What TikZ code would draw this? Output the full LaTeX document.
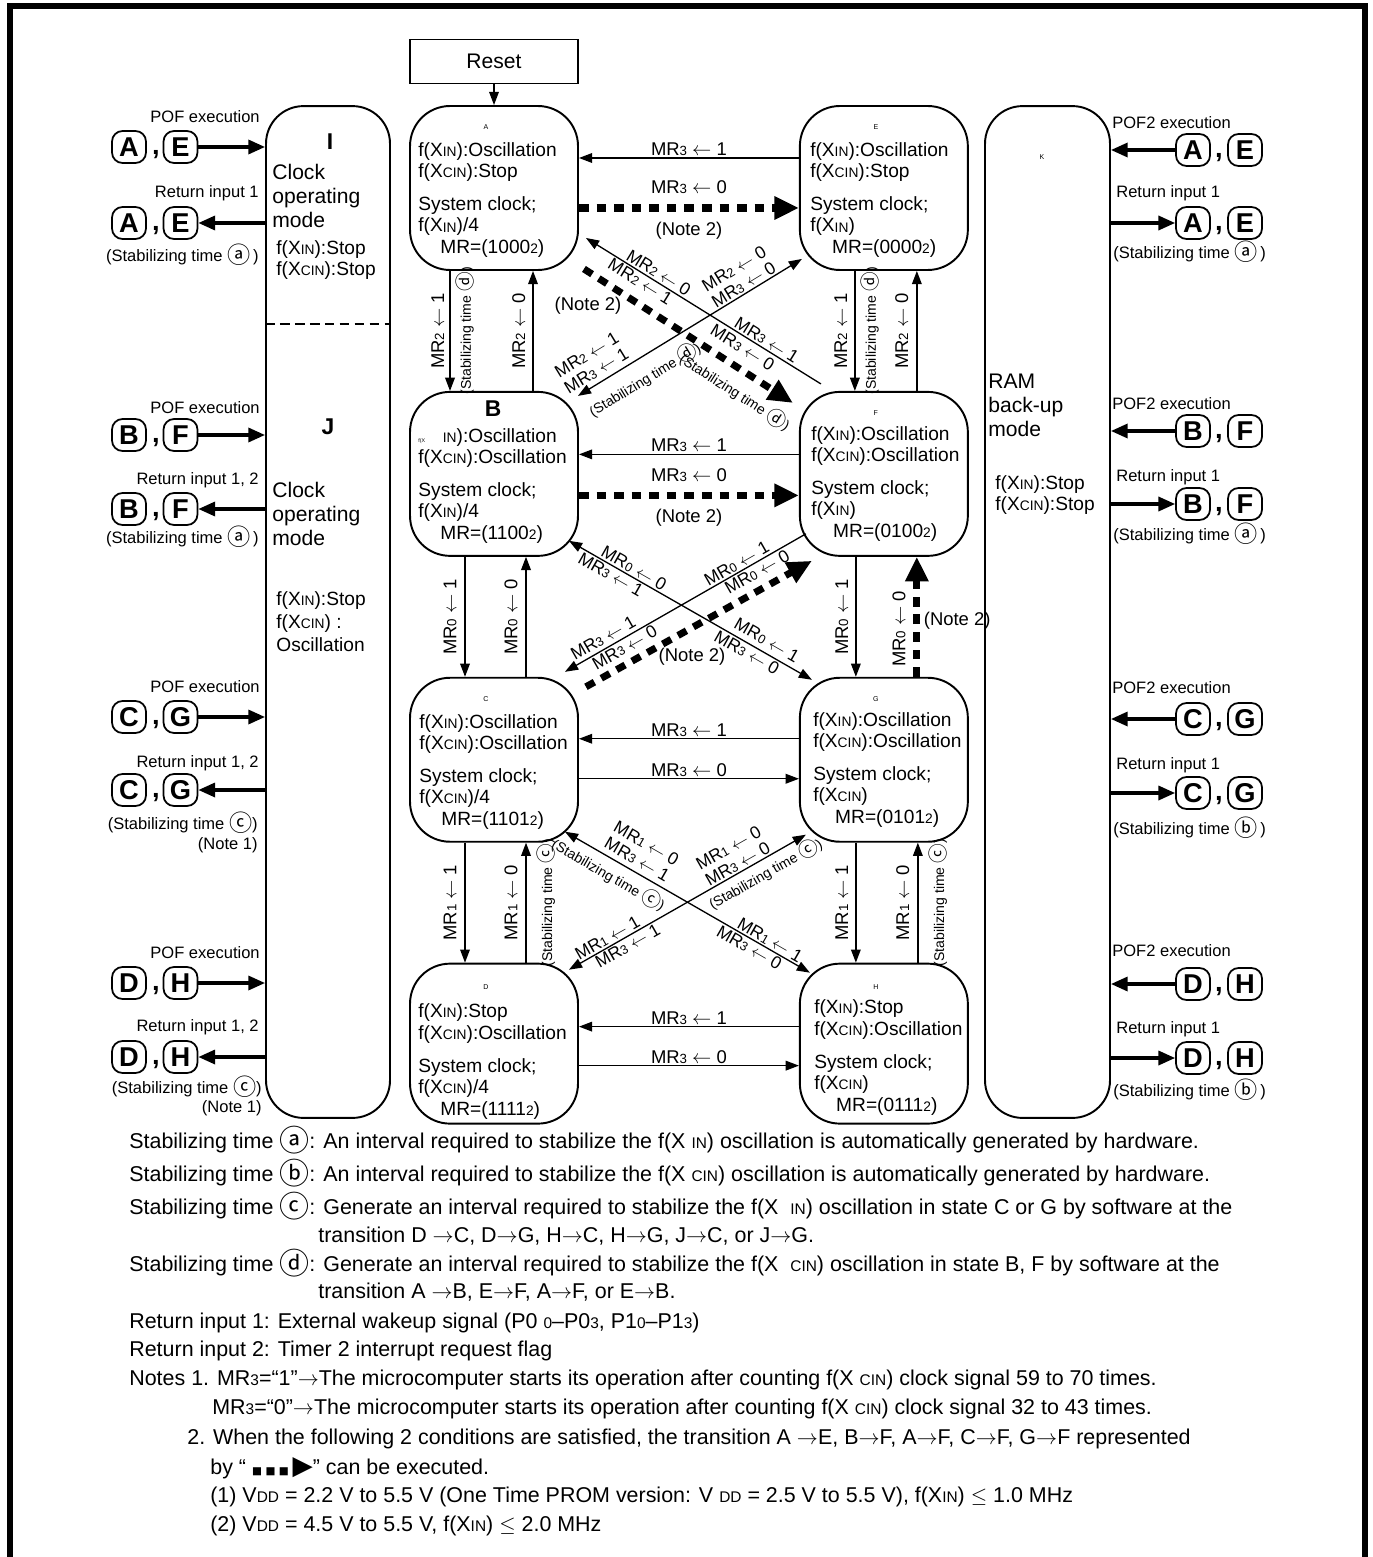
\documentclass[tikz,border=0pt]{standalone}
\usepackage{fontspec}
\setmainfont{Liberation Sans}
\newfontfamily\symfont{DejaVu Sans}
\newfontfamily\cjkfont{Noto Sans CJK JP}
\usepackage{graphicx}
\usetikzlibrary{arrows.meta, positioning}

\newcommand{\sm}[1]{\scalebox{0.72}{#1}}
\newcommand{\circl}[1]{\raisebox{-0.12em}{\cjkfont\scalebox{1.4}{#1}}}
\newcommand{\mrset}[2]{MR\sm{#1} $\leftarrow$ #2}

\begin{document}
\begin{tikzpicture}[
  x=0.02cm, y=-0.02cm,
  node distance=2.4cm and 4.4cm,
  state/.style={draw, line width=1.1pt, rounded corners=0.8cm, minimum width=3.36cm, minimum height=3.28cm, inner sep=0pt},
  modebox/.style={draw, line width=1.1pt, rounded corners=0.75cm, minimum height=20.24cm, inner sep=0pt},
  stxt/.style={font=\fontsize{10.9}{12.2}\selectfont, align=left, inner sep=0pt, anchor=north west},
  mtxt/.style={font=\fontsize{12}{13.6}\selectfont, align=left, inner sep=0pt, anchor=north west},
  tag/.style={font=\fontsize{4}{4}\selectfont, inner sep=0pt},
  bigtag/.style={font=\fontsize{13}{13}\selectfont\bfseries, inner sep=0pt},
  lbox/.style={draw, line width=1pt, rounded corners=6pt, minimum width=0.68cm, minimum height=0.64cm, inner sep=0pt, font=\fontsize{15.5}{15.5}\selectfont\bfseries},
  comma/.style={font=\fontsize{15.5}{15.5}\selectfont\bfseries, inner sep=0pt},
  side/.style={font=\fontsize{9.4}{11}\selectfont, inner sep=0pt},
  mrl/.style={font=\fontsize{10.5}{11}\selectfont, inner sep=1pt, align=center},
  dl/.style={mrl, font=\fontsize{10}{10.5}\selectfont},
  stab/.style={font=\fontsize{8}{9}\selectfont, inner sep=1pt},
  ntxt/.style={font=\fontsize{12.2}{13}\selectfont, inner sep=0pt, anchor=west},
  arrow/.style={line width=0.75pt, -{Triangle[length=7.5pt,width=5.5pt]}},
  backarrow/.style={line width=0.75pt, {Triangle[length=7.5pt,width=5.5pt]}-},
  twoarrow/.style={line width=0.75pt, {Triangle[length=7.5pt,width=5.5pt]}-{Triangle[length=7.5pt,width=5.5pt]}},
  notearrow/.style={line width=4pt, dash pattern=on 5.5pt off 4.5pt, -{Triangle[length=14pt,width=12.5pt]}},
  inarrow/.style={line width=1.8pt, -{Triangle[length=9.5pt,width=8pt]}}
]
\useasboundingbox (0,0) rectangle (1372,1557);
\draw[line width=3.4pt] (10,1580) -- (10,6) -- (1365,6) -- (1365,1580);

% states
\node[state] (A) at (494,188) {};
\node[state, right=of A] (E) {};
\node[state, below=of A] (B) {};
\node[state, right=of B] (F) {};
\node[state, below=of B] (C) {};
\node[state, right=of C] (G) {};
\node[state, minimum height=3.2cm, below=of C] (D) {};
\node[state, minimum height=3.2cm, right=of D] (H) {};
\node[draw, line width=0.8pt, minimum width=3.36cm, minimum height=0.88cm, font=\fontsize{12}{12}\selectfont, above=0.42cm of A] (reset) {Reset};
\draw[arrow] (reset) -- (A);

\node[tag] (Atag) at ([shift={(-8,22)}]A.north) {A};
\node[tag] (Etag) at ([shift={(-8,22)}]E.north) {E};
\node[bigtag] (Btag) at ([shift={(-1,18)}]B.north) {B};
\node[tag] (Ftag) at ([shift={(-8,22)}]F.north) {F};
\node[tag] (Ctag) at ([shift={(-8,22)}]C.north) {C};
\node[tag] (Gtag) at ([shift={(-8,22)}]G.north) {G};
\node[tag] (Dtag) at ([shift={(-8,24)}]D.north) {D};
\node[tag] (Htag) at ([shift={(-8,24)}]H.north) {H};

\node[stxt] (Atxt) at ([shift={(9,37)}]A.north west) {f(X\sm{IN}):Oscillation\\f(X\sm{CIN}):Stop\\[6.5pt]System clock;\\f(X\sm{IN})/4\\\hspace*{12.5pt}MR=(1000\sm{2})};
\node[stxt] (Etxt) at ([shift={(11,37)}]E.north west) {f(X\sm{IN}):Oscillation\\f(X\sm{CIN}):Stop\\[6.5pt]System clock;\\f(X\sm{IN})\\\hspace*{12.5pt}MR=(0000\sm{2})};
\node[stxt] (Btxt) at ([shift={(9,37)}]B.north west) {\rlap{\fontsize{3}{3}\selectfont f(X}\phantom{f(X}\sm{IN}):Oscillation\\f(X\sm{CIN}):Oscillation\\[6.5pt]System clock;\\f(X\sm{IN})/4\\\hspace*{12.5pt}MR=(1100\sm{2})};
\node[stxt] (Ftxt) at ([shift={(12,35)}]F.north west) {f(X\sm{IN}):Oscillation\\f(X\sm{CIN}):Oscillation\\[6.5pt]System clock;\\f(X\sm{IN})\\\hspace*{12.5pt}MR=(0100\sm{2})};
\node[stxt] (Ctxt) at ([shift={(10,37)}]C.north west) {f(X\sm{IN}):Oscillation\\f(X\sm{CIN}):Oscillation\\[6.5pt]System clock;\\f(X\sm{CIN})/4\\\hspace*{12.5pt}MR=(1101\sm{2})};
\node[stxt] (Gtxt) at ([shift={(14,35)}]G.north west) {f(X\sm{IN}):Oscillation\\f(X\sm{CIN}):Oscillation\\[6.5pt]System clock;\\f(X\sm{CIN})\\\hspace*{12.5pt}MR=(0101\sm{2})};
\node[stxt] (Dtxt) at ([shift={(9,41)}]D.north west) {f(X\sm{IN}):Stop\\f(X\sm{CIN}):Oscillation\\[6.5pt]System clock;\\f(X\sm{CIN})/4\\\hspace*{12.5pt}MR=(1111\sm{2})};
\node[stxt] (Htxt) at ([shift={(15,37)}]H.north west) {f(X\sm{IN}):Stop\\f(X\sm{CIN}):Oscillation\\[6.5pt]System clock;\\f(X\sm{CIN})\\\hspace*{12.5pt}MR=(0111\sm{2})};

% horizontal transitions
\draw[arrow] ([shift={(0,-30)}]E.west) -- ([shift={(0,-30)}]A.east) node[mrl, midway, above] (ae1) {\mrset{3}{1}};
\draw[notearrow] ([shift={(0,20)}]A.east) -- ([shift={(0,20)}]E.west) node[mrl, midway, above=5pt] (ae2) {\mrset{3}{0}} node[mrl, midway, below=5pt] (ae3) {(Note 2)};
\draw[arrow] ([shift={(0,-19.5)}]F.west) -- ([shift={(0,-19.5)}]B.east) node[mrl, midway, above] (bf1) {\mrset{3}{1}};
\draw[notearrow] ([shift={(0,21.5)}]B.east) -- ([shift={(0,21.5)}]F.west) node[mrl, midway, above=5pt] (bf2) {\mrset{3}{0}} node[mrl, midway, below=5pt] (bf3) {(Note 2)};
\draw[arrow] ([shift={(0,-21)}]G.west) -- ([shift={(0,-21)}]C.east) node[mrl, midway, above] (cg1) {\mrset{3}{1}};
\draw[arrow] ([shift={(0,19)}]C.east) -- ([shift={(0,19)}]G.west) node[mrl, midway, above] (cg2) {\mrset{3}{0}};
\draw[arrow] ([shift={(0,-17)}]H.west) -- ([shift={(0,-17)}]D.east) node[mrl, midway, above] (dh1) {\mrset{3}{1}};
\draw[arrow] ([shift={(0,22)}]D.east) -- ([shift={(0,22)}]H.west) node[mrl, midway, above] (dh2) {\mrset{3}{0}};

% vertical transitions
\draw[arrow] ([shift={(-44,0)}]A.south) -- ([shift={(-44,0)}]B.north) node[mrl, midway, rotate=90, anchor=south, inner sep=3pt] (ab1) {\mrset{2}{1}} node[stab, midway, rotate=90, anchor=north, inner sep=3pt] (ab2) {(Stabilizing time \circl{ⓓ})};
\draw[arrow] ([shift={(39,0)}]B.north) -- ([shift={(39,0)}]A.south) node[mrl, midway, rotate=90, anchor=south, inner sep=4pt] (ab3) {\mrset{2}{0}};
\draw[arrow] ([shift={(-29,0)}]E.south) -- ([shift={(-29,0)}]F.north) node[mrl, midway, rotate=90, anchor=south, inner sep=4pt] (ef1) {\mrset{2}{1}} node[stab, midway, rotate=90, anchor=north, inner sep=3pt] (ef2) {(Stabilizing time \circl{ⓓ})};
\draw[arrow] ([shift={(33,0)}]F.north) -- ([shift={(33,0)}]E.south) node[mrl, midway, rotate=90, anchor=south, inner sep=4.5pt] (ef3) {\mrset{2}{0}};
\draw[arrow] ([shift={(-29,0)}]B.south) -- ([shift={(-29,0)}]C.north) node[mrl, midway, rotate=90, anchor=south, inner sep=4.5pt] (bc1) {\mrset{0}{1}};
\draw[arrow] ([shift={(32,0)}]C.north) -- ([shift={(32,0)}]B.south) node[mrl, midway, rotate=90, anchor=south, inner sep=4.5pt] (bc2) {\mrset{0}{0}};
\draw[arrow] ([shift={(-28,0)}]F.south) -- ([shift={(-28,0)}]G.north) node[mrl, midway, rotate=90, anchor=south, inner sep=4pt] (fg1) {\mrset{0}{1}};
\draw[notearrow] ([shift={(33,0)}]G.north) -- ([shift={(33,0)}]F.south) node[mrl, pos=0.4, rotate=90, anchor=south, inner sep=4.5pt] (fg2) {\mrset{0}{0}} node[mrl, pos=0.47, anchor=west, inner sep=2pt] (fg3) {(Note 2)};
\draw[arrow] ([shift={(-29,0)}]C.south) -- ([shift={(-29,0)}]D.north) node[mrl, midway, rotate=90, anchor=south, inner sep=4.5pt] (cd1) {\mrset{1}{1}};
\draw[arrow] ([shift={(32,0)}]D.north) -- ([shift={(32,0)}]C.south) node[mrl, midway, rotate=90, anchor=south, inner sep=4.5pt] (cd2) {\mrset{1}{0}} node[stab, midway, rotate=90, anchor=north, inner sep=6pt] (cd3) {(Stabilizing time \circl{ⓒ})};
\draw[arrow] ([shift={(-28,0)}]G.south) -- ([shift={(-28,0)}]H.north) node[mrl, midway, rotate=90, anchor=south, inner sep=4pt] (gh1) {\mrset{1}{1}};
\draw[arrow] ([shift={(34,0)}]H.north) -- ([shift={(34,0)}]G.south) node[mrl, midway, rotate=90, anchor=south, inner sep=4.5pt] (gh2) {\mrset{1}{0}} node[stab, midway, rotate=90, anchor=north, inner sep=6pt] (gh3) {(Stabilizing time \circl{ⓒ})};

% diagonal transitions
\draw[backarrow] ([shift={(7,-33)}]A.south east) -- ([shift={(22,-7)}]F.north west)
  node[dl, sloped, pos=0.29, above] (af1) {\mrset{2}{0}}
  node[dl, sloped, pos=0.25, below] (af2) {\mrset{2}{1}}
  node[dl, sloped, pos=0.75, above] (af3) {\mrset{3}{1}}
  node[dl, sloped, pos=0.69, below=1pt] (af4) {\mrset{3}{0}};
\draw[notearrow] ([shift={(5,-2)}]A.south east) -- ([shift={(-6,12)}]F.north west)
  node[stab, sloped, pos=0.78, below=4pt] (af5) {(Stabilizing time \circl{ⓓ})};
\node[mrl] (af6) at (588,306) {(Note 2)};
\draw[twoarrow] ([shift={(-1,5)}]B.north east) -- ([shift={(3,-12)}]E.south west)
  node[dl, sloped, pos=0.76, above] (be1) {\mrset{2}{0}\\\mrset{3}{0}}
  node[dl, sloped, pos=0.11, above=2pt] (be2) {\mrset{2}{1}\\\mrset{3}{1}}
  node[stab, sloped, pos=0.25, below=5pt] (be3) {(Stabilizing time \circl{ⓓ})};

\draw[twoarrow] ([shift={(-10,-16)}]B.south east) -- ([shift={(13,3)}]G.north west)
  node[dl, sloped, pos=0.25, above] (bg1) {\mrset{0}{0}}
  node[dl, sloped, pos=0.19, below] (bg2) {\mrset{3}{1}}
  node[dl, sloped, pos=0.79, above=2pt] (bg3) {\mrset{0}{1}}
  node[dl, sloped, pos=0.75, below] (bg4) {\mrset{3}{0}};
\draw[backarrow] ([shift={(-14,-5)}]C.north east) -- ([shift={(7,-23)}]F.south west)
  node[dl, sloped, pos=0.18, above=1pt] (cf1) {\mrset{3}{1}}
  node[dl, sloped, pos=0.23, below] (cf2) {\mrset{3}{0}}
  node[dl, sloped, pos=0.73, above] (cf3) {\mrset{0}{1}}
  node[dl, sloped, pos=0.78, below] (cf4) {\mrset{0}{0}};
\draw[notearrow] ([shift={(7,10)}]C.north east) -- ([shift={(13,4)}]F.south west);
\node[mrl] (cf5) at (692,657) {(Note 2)};

\draw[twoarrow] ([shift={(-14,-11)}]C.south east) -- ([shift={(11,10)}]H.north west)
  node[dl, sloped, pos=0.27, above=2pt] (ch1) {\mrset{1}{0}\\\mrset{3}{1}}
  node[stab, sloped, pos=0.21, below=2pt] (ch2) {(Stabilizing time \circl{ⓒ})}
  node[dl, sloped, pos=0.82, above] (ch3) {\mrset{1}{1}}
  node[dl, sloped, pos=0.77, below] (ch4) {\mrset{3}{0}};
\draw[twoarrow] ([shift={(-10,7)}]D.north east) -- ([shift={(7,-8)}]G.south west)
  node[dl, sloped, pos=0.73, above] (dg1) {\mrset{1}{0}\\\mrset{3}{0}}
  node[stab, sloped, pos=0.80, below=1pt] (dg2) {(Stabilizing time \circl{ⓒ})}
  node[dl, sloped, pos=0.18, above] (dg3) {\mrset{1}{1}}
  node[dl, sloped, pos=0.23, below] (dg4) {\mrset{3}{1}};

% clock operating mode (I, J) and RAM back-up mode (K)
\node[modebox, minimum width=2.48cm] (clk) at (328,612) {};
\node[modebox, minimum width=2.5cm] (ram) at (1047.5,612) {};
\draw[line width=0.8pt, dash pattern=on 5.5pt off 3pt] ([shift={(0,-288)}]clk.west) -- ([shift={(0,-288)}]clk.east);
\node[bigtag] (Itag) at (330,142) {I};
\node[mtxt] (Imode) at (272,164) {Clock\\operating\\mode};
\node[stxt] (Ifreq) at (276,240) {f(X\sm{IN}):Stop\\f(X\sm{CIN}):Stop};
\node[bigtag] (Jtag) at (328,427) {J};
\node[mtxt] (Jmode) at (272,482) {Clock\\operating\\mode};
\node[stxt, font=\fontsize{10.9}{13.3}\selectfont] (Jfreq) at (276,591) {f(X\sm{IN}):Stop\\f(X\sm{CIN}) :\\Oscillation};
\node[tag] (Ktag) at (1042,157) {K};
\node[mtxt] (Kmode) at (988,374) {RAM\\back-up\\mode};
\node[stxt] (Kfreq) at (995,475) {f(X\sm{IN}):Stop\\f(X\sm{CIN}):Stop};

% left side: POF execution / return
\node[lbox] (pA) at (129,147) {A}; \node[comma] (pc1) at (156,155) {,}; \node[lbox] (pE) at (180.5,147) {E};
\draw[inarrow] (pE) -- (pE -| clk.west);
\node[side, anchor=east] (pofl1) at (260,117) {POF execution};
\node[side, anchor=east] (retl1) at (259,193) {Return input 1};
\node[lbox] (rA) at (129,223) {A}; \node[comma] (rc1) at (156,231) {,}; \node[lbox] (rE) at (180.5,223) {E};
\draw[inarrow] (rE -| clk.west) -- (rE);
\node[side, anchor=east] (stbl1) at (259,255) {(Stabilizing time \circl{ⓐ}\,)};

\node[lbox] (pB) at (129,435) {B}; \node[comma] (pc2) at (156,443) {,}; \node[lbox] (pF) at (180.5,435) {F};
\draw[inarrow] (pF) -- (pF -| clk.west);
\node[side, anchor=east] (pofl2) at (260,408) {POF execution};
\node[side, anchor=east] (retl2) at (259,480) {Return input 1, 2};
\node[lbox] (rB) at (129,509) {B}; \node[comma] (rc2) at (156,517) {,}; \node[lbox] (rF) at (180.5,509) {F};
\draw[inarrow] (rF -| clk.west) -- (rF);
\node[side, anchor=east] (stbl2) at (259,537) {(Stabilizing time \circl{ⓐ}\,)};

\node[lbox] (pC) at (129,717) {C}; \node[comma] (pc3) at (156,725) {,}; \node[lbox] (pG) at (180.5,717) {G};
\draw[inarrow] (pG) -- (pG -| clk.west);
\node[side, anchor=east] (pofl3) at (260,687) {POF execution};
\node[side, anchor=east] (retl3) at (259,763) {Return input 1, 2};
\node[lbox] (rC) at (129,790) {C}; \node[comma] (rc3) at (156,798) {,}; \node[lbox] (rG) at (180.5,790) {G};
\draw[inarrow] (rG -| clk.west) -- (rG);
\node[side, anchor=east] (stbl3) at (258,823) {(Stabilizing time \circl{ⓒ})};
\node[side, anchor=east] (notel3) at (258,845) {(Note 1)};

\node[lbox] (pD) at (129,983) {D}; \node[comma] (pc4) at (156,991) {,}; \node[lbox] (pH) at (180.5,983) {H};
\draw[inarrow] (pH) -- (pH -| clk.west);
\node[side, anchor=east] (pofl4) at (260,953) {POF execution};
\node[side, anchor=east] (retl4) at (259,1027) {Return input 1, 2};
\node[lbox] (rD) at (129,1057) {D}; \node[comma] (rc4) at (156,1065) {,}; \node[lbox] (rH) at (180.5,1057) {H};
\draw[inarrow] (rH -| clk.west) -- (rH);
\node[side, anchor=east] (stbl4) at (262,1087) {(Stabilizing time \circl{ⓒ})};
\node[side, anchor=east] (notel4) at (262,1108) {(Note 1)};

% right side: POF2 execution / return
\node[lbox] (qA) at (1193,150) {A}; \node[comma] (qc1) at (1219,158) {,}; \node[lbox] (qE) at (1245,150) {E};
\draw[inarrow] (qA) -- (qA -| ram.east);
\node[side, anchor=west] (pofr1) at (1112,123) {POF2 execution};
\node[side, anchor=west] (retr1) at (1116,193) {Return input 1};
\node[lbox] (sA) at (1193,223) {A}; \node[comma] (sc1) at (1219,231) {,}; \node[lbox] (sE) at (1245,223) {E};
\draw[inarrow] (sA -| ram.east) -- (sA);
\node[side, anchor=west] (stbr1) at (1113,252) {(Stabilizing time \circl{ⓐ}\,)};

\node[lbox] (qB) at (1193,431) {B}; \node[comma] (qc2) at (1219,439) {,}; \node[lbox] (qF) at (1245,431) {F};
\draw[inarrow] (qB) -- (qB -| ram.east);
\node[side, anchor=west] (pofr2) at (1112,404) {POF2 execution};
\node[side, anchor=west] (retr2) at (1116,477) {Return input 1};
\node[lbox] (sB) at (1193,504) {B}; \node[comma] (sc2) at (1219,512) {,}; \node[lbox] (sF) at (1245,504) {F};
\draw[inarrow] (sB -| ram.east) -- (sB);
\node[side, anchor=west] (stbr2) at (1113,534) {(Stabilizing time \circl{ⓐ}\,)};

\node[lbox] (qC) at (1193,719) {C}; \node[comma] (qc3) at (1219,727) {,}; \node[lbox] (qG) at (1245,719) {G};
\draw[inarrow] (qC) -- (qC -| ram.east);
\node[side, anchor=west] (pofr3) at (1112,688) {POF2 execution};
\node[side, anchor=west] (retr3) at (1116,765) {Return input 1};
\node[lbox] (sC) at (1193,793) {C}; \node[comma] (sc3) at (1219,801) {,}; \node[lbox] (sG) at (1245,793) {G};
\draw[inarrow] (sC -| ram.east) -- (sC);
\node[side, anchor=west] (stbr3) at (1113,828) {(Stabilizing time \circl{ⓑ}\,)};

\node[lbox] (qD) at (1193,984) {D}; \node[comma] (qc4) at (1219,992) {,}; \node[lbox] (qH) at (1245,984) {H};
\draw[inarrow] (qD) -- (qD -| ram.east);
\node[side, anchor=west] (pofr4) at (1112,951) {POF2 execution};
\node[side, anchor=west] (retr4) at (1116,1029) {Return input 1};
\node[lbox] (sD) at (1193,1058) {D}; \node[comma] (sc4) at (1219,1066) {,}; \node[lbox] (sH) at (1245,1058) {H};
\draw[inarrow] (sD -| ram.east) -- (sD);
\node[side, anchor=west] (stbr4) at (1113,1090) {(Stabilizing time \circl{ⓑ}\,)};

% notes
\node[ntxt] (nt1) at (129,1140) {Stabilizing time \circl{ⓐ}: An interval required to stabilize the f(X \sm{IN}) oscillation is automatically generated by hardware.};
\node[ntxt] (nt2) at (129,1173) {Stabilizing time \circl{ⓑ}: An interval required to stabilize the f(X \sm{CIN}) oscillation is automatically generated by hardware.};
\node[ntxt] (nt3) at (129,1206) {Stabilizing time \circl{ⓒ}: Generate an interval required to stabilize the f(X \ \sm{IN}) oscillation in state C or G by software at the};
\node[ntxt] (nt4) at (318,1236) {transition D $\rightarrow$C, D$\rightarrow$G, H$\rightarrow$C, H$\rightarrow$G, J$\rightarrow$C, or J$\rightarrow$G.};
\node[ntxt] (nt5) at (129,1263) {Stabilizing time \circl{ⓓ}: Generate an interval required to stabilize the f(X \ \sm{CIN}) oscillation in state B, F by software at the};
\node[ntxt] (nt6) at (318,1292) {transition A $\rightarrow$B, E$\rightarrow$F, A$\rightarrow$F, or E$\rightarrow$B.};
\node[ntxt] (nt7) at (129,1323) {Return input 1: External wakeup signal (P0 \sm{0}–P0\sm{3}, P1\sm{0}–P1\sm{3})};
\node[ntxt] (nt8) at (129,1351) {Return input 2: Timer 2 interrupt request flag};
\node[ntxt] (nt9) at (129,1380) {Notes 1. MR\sm{3}=“1”$\rightarrow$The microcomputer starts its operation after counting f(X \sm{CIN}) clock signal 59 to 70 times.};
\node[ntxt] (nt10) at (212,1409) {MR\sm{3}=“0”$\rightarrow$The microcomputer starts its operation after counting f(X \sm{CIN}) clock signal 32 to 43 times.};
\node[ntxt] (nt11) at (187,1439) {2. When the following 2 conditions are satisfied, the transition A $\rightarrow$E, B$\rightarrow$F, A$\rightarrow$F, C$\rightarrow$F, G$\rightarrow$F represented};
\node[ntxt] (nt12) at (210,1468) {by “ {\symfont\fontsize{6}{6}\selectfont ■\,\,■\,\,■}\,{\symfont\fontsize{15}{15}\selectfont ▶}” can be executed.};
\node[ntxt] (nt13) at (210,1497) {(1) V\sm{DD} = 2.2 V to 5.5 V (One Time PROM version: V \sm{DD} = 2.5 V to 5.5 V), f(X\sm{IN}) $\leq$ 1.0 MHz};
\node[ntxt] (nt14) at (210,1526) {(2) V\sm{DD} = 4.5 V to 5.5 V, f(X\sm{IN}) $\leq$ 2.0 MHz};
\end{tikzpicture}
\end{document}
